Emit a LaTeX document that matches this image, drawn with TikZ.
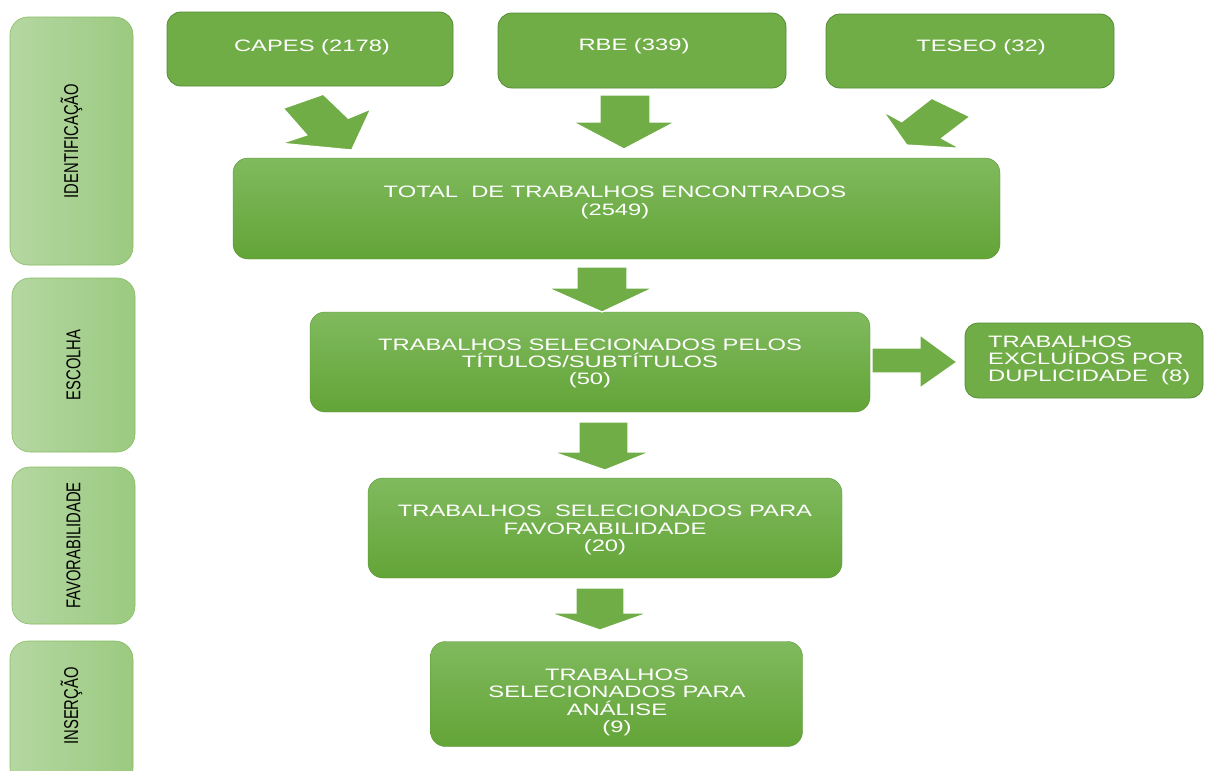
\documentclass[tikz,border=0pt]{standalone}
\usepackage{fontspec}
\newfontfamily\mainf[FakeStretch=1.44]{Liberation Sans}
\newfontfamily\sidef[FakeStretch=0.74]{Liberation Sans}
\definecolor{gflat}{HTML}{70AD47}
\definecolor{gedge}{HTML}{548C37}
\definecolor{gtop}{HTML}{80BA5E}
\definecolor{gbot}{HTML}{63A437}
\definecolor{sleft}{HTML}{B5D7A2}
\definecolor{sright}{HTML}{9BCA80}
\definecolor{sedge}{HTML}{86BD62}
\tikzset{
  flatbox/.style={rectangle, rounded corners=14pt, fill=gflat, draw=gedge, line width=0.8pt, inner sep=0pt},
  gradbox/.style={rectangle, rounded corners=15pt, top color=gtop, bottom color=gbot, draw=gbot!90!black, line width=0.4pt, inner sep=0pt},
  sidebox/.style={rectangle, rounded corners=18pt, left color=sleft, right color=sright, draw=sedge, line width=0.6pt, inner sep=0pt},
  maintxt/.style={text=white, font=\mainf\fontsize{16.5}{17.4}\selectfont, align=center, inner sep=0pt},
  sidetxt/.style={text=black, font=\sidef\fontsize{20}{20}\selectfont, rotate=90, inner sep=0pt},
  blockarrow/.style={fill=gflat, draw=white, line width=1.2pt, line join=miter}
}
\begin{document}
\begin{tikzpicture}[x=1pt, y=-1pt]
\path[use as bounding box, fill=white] (0,0) rectangle (1205,771);

% side phase boxes
\node[sidebox, minimum width=123pt, minimum height=248pt] (sid) at (71.5,141) {};
\node[sidetxt] (sidt) at (sid.center) {IDENTIFICAÇÃO};
\node[sidebox, minimum width=123pt, minimum height=174pt] (sesc) at (73.5,365) {};
\node[sidetxt] (sesct) at (sesc.center) {ESCOLHA};
\node[sidebox, minimum width=123pt, minimum height=157pt] (sfav) at (73.5,545.5) {};
\node[sidetxt] (sfavt) at (sfav.center) {FAVORABILIDADE};
\node[sidebox, minimum width=123pt, minimum height=145pt] (sins) at (71.5,713.5) {};
\node[sidetxt] (sinst) at (71.5,706) {INSERÇÃO};

% top sources
\node[flatbox, minimum width=286pt, minimum height=74pt] (capes) at (310,49) {};
\node[maintxt] (capest) at (312,47) {CAPES (2178)};
\node[flatbox, minimum width=288pt, minimum height=75pt] (rbe) at (642,50.5) {};
\node[maintxt] (rbet) at (634,46) {RBE (339)};
\node[flatbox, minimum width=288pt, minimum height=74pt] (teseo) at (970,51) {};
\node[maintxt] (teseot) at (981,47) {TESEO (32)};

% main flow
\node[gradbox, minimum width=767pt, minimum height=101pt] (total) at (616.5,208.5) {};
\node[maintxt] (totalt) at (615,202.5) {TOTAL\ \ DE TRABALHOS ENCONTRADOS\\(2549)};
\node[gradbox, minimum width=560pt, minimum height=100pt] (esc) at (590,362) {};
\node[maintxt] (esct) at (590,363.5) {TRABALHOS SELECIONADOS PELOS\\TÍTULOS/SUBTÍTULOS\\(50)};
\node[flatbox, rounded corners=13pt, minimum width=238pt, minimum height=75pt] (excl) at (1084,360.5) {};
\node[maintxt, align=left, anchor=west] (exclt) at (988,360.5) {TRABALHOS\\EXCLUÍDOS POR\\DUPLICIDADE\ \ (8)};
\node[gradbox, minimum width=474pt, minimum height=100pt] (fav) at (605,528) {};
\node[maintxt] (favt) at (605,530) {TRABALHOS\ \ SELECIONADOS PARA\\FAVORABILIDADE\\(20)};
\node[gradbox, minimum width=372pt, minimum height=105pt] (ana) at (616.5,694) {};
\node[maintxt] (anat) at (617,702.5) {TRABALHOS\\SELECIONADOS PARA\\ANÁLISE\\(9)};

% block arrows
\filldraw[blockarrow] (283.3,108.3) -- (323.3,94.3) -- (348.3,118.3) -- (370.7,109) -- (351.7,150) -- (281.7,143.3) -- (306.7,135) -- cycle;
\filldraw[blockarrow] (600,95) -- (650,95) -- (650,122) -- (675,122) -- (624,149) -- (573,122) -- (600,122) -- cycle;
\filldraw[blockarrow] (931.7,98.3) -- (970,116.7) -- (941.7,138.3) -- (960,148.3) -- (906.7,145) -- (883.3,111.7) -- (901.7,121.7) -- cycle;
\filldraw[blockarrow] (577,267) -- (627,267) -- (627,288) -- (653,288) -- (602,312) -- (548,288) -- (577,288) -- cycle;
\filldraw[blockarrow] (872,348) -- (920,348) -- (920,335) -- (957,362) -- (920,388) -- (920,373) -- (872,373) -- cycle;
\filldraw[blockarrow] (579,422) -- (628,422) -- (628,452) -- (650,452) -- (605,470) -- (553,452) -- (579,452) -- cycle;
\filldraw[blockarrow] (576,588) -- (624,588) -- (624,613) -- (648,613) -- (600,630) -- (550,613) -- (576,613) -- cycle;
\end{tikzpicture}
\end{document}
